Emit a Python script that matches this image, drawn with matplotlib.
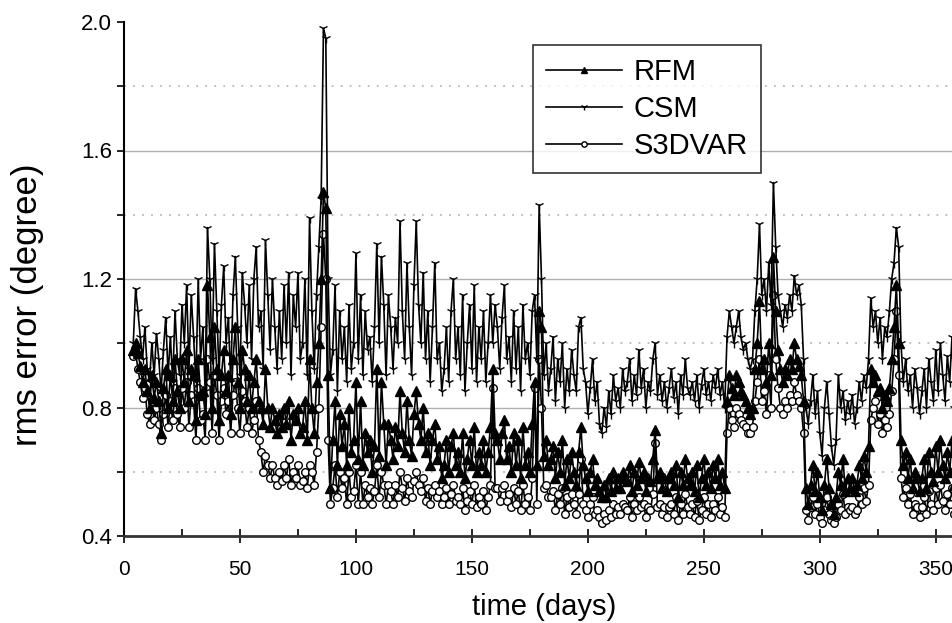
import numpy as np
import matplotlib
matplotlib.use("Agg")
from matplotlib import pyplot as plt
from matplotlib.ticker import MultipleLocator

plt.rcParams['font.family'] = ['Liberation Sans', 'DejaVu Sans']

# daily rms errors, days 4..358
days = np.arange(4, 359)

csm = [
    1.00, 1.17, 1.10, 1.02, 0.95, 1.05, 0.92, 0.88, 1.00, 0.90,
    1.03, 0.95, 0.85, 0.98, 1.08, 0.90, 1.02, 0.88, 1.10, 0.95,
    0.90, 1.12, 1.00, 1.18, 0.92, 1.15, 1.02, 0.88, 1.20, 0.95,
    1.05, 0.85, 1.36, 1.20, 0.95, 1.31, 1.10, 0.90, 1.12, 1.24,
    1.00, 1.08, 0.88, 1.15, 1.27, 1.05, 0.90, 1.22, 1.12, 1.00,
    1.18, 0.95, 1.20, 1.30, 1.05, 1.10, 0.92, 1.32, 1.15, 0.98,
    1.20, 1.05, 0.92, 1.10, 0.95, 1.18, 1.00, 1.22, 0.90, 1.15,
    1.05, 1.22, 0.95, 1.00, 1.20, 0.90, 1.39, 1.10, 0.92, 1.15,
    1.30, 1.45, 1.98, 1.95, 1.20, 0.90, 0.98, 1.18, 0.85, 1.10,
    0.95, 1.05, 0.88, 1.12, 0.92, 1.00, 1.28, 0.95, 1.15, 0.90,
    1.10, 0.98, 1.02, 0.88, 1.05, 1.31, 1.00, 1.27, 1.12, 0.90,
    1.15, 1.05, 0.92, 1.08, 1.00, 1.38, 1.10, 0.95, 1.25, 1.05,
    0.90, 1.18, 1.38, 1.12, 1.00, 1.22, 0.95, 1.10, 0.88, 1.05,
    1.25, 0.95, 1.00, 0.85, 0.92, 1.05, 0.88, 1.10, 1.20, 0.95,
    1.05, 0.90, 1.15, 0.85, 1.00, 1.12, 0.92, 1.18, 0.88, 1.05,
    0.95, 1.10, 0.88, 1.00, 1.15, 1.00, 1.12, 1.05, 0.92, 1.08,
    1.18, 0.95, 1.02, 0.88, 1.10, 0.92, 1.05, 0.85, 1.12, 0.95,
    1.00, 0.90, 1.10, 1.15, 0.95, 1.43, 1.20, 0.90, 1.00, 0.85,
    0.92, 1.02, 0.82, 0.95, 0.88, 1.00, 0.80, 0.92, 0.85, 0.98,
    0.90, 0.85, 1.05, 1.08, 0.92, 0.88, 0.78, 0.86, 0.95, 0.82,
    0.88, 0.75, 0.72, 0.80, 0.74, 0.85, 0.78, 0.90, 0.82, 0.86,
    0.80, 0.92, 0.85, 0.88, 0.95, 0.82, 0.90, 0.84, 0.98, 0.86,
    0.92, 0.80, 0.88, 0.85, 0.95, 1.00, 0.84, 0.90, 0.82, 0.88,
    0.80, 0.86, 0.92, 0.83, 0.88, 0.78, 0.90, 0.84, 0.95, 0.86,
    0.84, 0.88, 0.82, 0.90, 0.80, 0.87, 0.92, 0.84, 0.88, 0.82,
    0.90, 0.86, 0.92, 0.84, 0.88, 0.80, 1.02, 1.10, 1.05, 1.00,
    1.05, 1.10, 1.02, 0.98, 1.00, 0.95, 0.92, 0.95, 1.10, 1.20,
    1.37, 1.15, 1.20, 1.10, 1.25, 1.12, 1.50, 1.30, 1.15, 1.10,
    1.05, 1.12, 1.08, 1.15, 1.10, 1.21, 1.15, 1.18, 1.12, 0.95,
    0.80, 0.75, 0.82, 0.90, 0.78, 0.85, 0.72, 0.65, 0.80, 0.88,
    0.78, 0.68, 0.62, 0.70, 0.90, 0.80, 0.85, 0.76, 0.82, 0.78,
    0.84, 0.75, 0.80, 0.88, 0.82, 0.90, 0.86, 0.95, 1.14, 1.05,
    1.10, 1.00, 1.08, 0.95, 1.05, 1.02, 1.10, 1.20, 1.25, 1.36,
    1.30, 1.00, 0.88, 0.95, 0.85, 0.90, 0.80, 0.92, 0.86, 0.78,
    0.85, 0.92, 0.80, 0.95, 0.88, 0.82, 0.98, 0.85, 1.00, 0.90,
    0.82, 0.96, 0.88, 1.02, 0.80,
]

rfm = [
    0.98, 1.00, 0.97, 0.93, 0.88, 0.92, 0.85, 0.80, 0.90, 0.83,
    0.88, 0.82, 0.72, 0.86, 0.92, 0.80, 0.90, 0.82, 0.95, 0.85,
    0.80, 0.95, 0.88, 0.98, 0.82, 0.92, 0.90, 0.76, 0.95, 0.84,
    0.85, 0.78, 1.18, 1.02, 0.80, 1.05, 0.92, 0.76, 0.90, 0.98,
    0.85, 0.90, 0.78, 0.95, 1.05, 0.88, 0.80, 0.98, 0.92, 0.82,
    0.90, 0.80, 0.88, 0.95, 0.82, 0.80, 0.75, 0.92, 0.80, 0.74,
    0.80, 0.76, 0.72, 0.78, 0.74, 0.80, 0.75, 0.82, 0.70, 0.78,
    0.76, 0.80, 0.72, 0.74, 0.82, 0.70, 0.95, 0.80, 0.72, 0.88,
    1.00, 1.20, 1.47, 1.42, 0.90, 0.55, 0.70, 0.82, 0.62, 0.78,
    0.68, 0.75, 0.62, 0.80, 0.66, 0.70, 0.88, 0.64, 0.82, 0.62,
    0.72, 0.66, 0.70, 0.60, 0.68, 0.92, 0.65, 0.88, 0.75, 0.62,
    0.75, 0.70, 0.64, 0.74, 0.68, 0.85, 0.72, 0.66, 0.82, 0.70,
    0.65, 0.78, 0.85, 0.75, 0.70, 0.80, 0.66, 0.72, 0.62, 0.70,
    0.75, 0.64, 0.68, 0.58, 0.62, 0.70, 0.60, 0.68, 0.72, 0.62,
    0.66, 0.60, 0.72, 0.58, 0.64, 0.70, 0.62, 0.74, 0.60, 0.66,
    0.62, 0.70, 0.60, 0.66, 0.74, 0.92, 0.72, 0.70, 0.64, 0.72,
    0.76, 0.64, 0.68, 0.60, 0.72, 0.62, 0.70, 0.58, 0.74, 0.62,
    0.66, 0.60, 0.75, 0.88, 0.62, 1.10, 1.05, 0.65, 0.70, 0.62,
    0.64, 0.68, 0.58, 0.66, 0.60, 0.70, 0.56, 0.64, 0.58, 0.66,
    0.60, 0.56, 0.66, 0.74, 0.62, 0.58, 0.54, 0.60, 0.64, 0.56,
    0.58, 0.54, 0.52, 0.56, 0.52, 0.58, 0.54, 0.60, 0.55, 0.58,
    0.55, 0.60, 0.58, 0.57, 0.62, 0.54, 0.60, 0.56, 0.63, 0.58,
    0.60, 0.54, 0.58, 0.57, 0.64, 0.73, 0.58, 0.60, 0.55, 0.58,
    0.54, 0.58, 0.60, 0.56, 0.62, 0.52, 0.60, 0.56, 0.64, 0.58,
    0.56, 0.60, 0.54, 0.62, 0.52, 0.58, 0.64, 0.56, 0.60, 0.55,
    0.62, 0.58, 0.64, 0.56, 0.60, 0.55, 0.82, 0.90, 0.86, 0.84,
    0.90, 0.88, 0.85, 0.84, 0.82, 0.80, 0.78, 0.80, 0.92, 1.00,
    1.13, 0.92, 0.95, 0.88, 1.00, 0.90, 1.27, 1.10, 0.98, 0.92,
    0.88, 0.92, 0.90, 0.95, 0.92, 1.00, 0.95, 0.93, 0.90, 0.82,
    0.55, 0.50, 0.56, 0.62, 0.54, 0.60, 0.52, 0.48, 0.56, 0.64,
    0.55, 0.50, 0.47, 0.52, 0.60, 0.56, 0.64, 0.54, 0.58, 0.55,
    0.58, 0.54, 0.56, 0.62, 0.58, 0.65, 0.60, 0.68, 0.92, 0.88,
    0.90, 0.85, 0.86, 0.80, 0.84, 0.82, 0.86, 0.95, 1.05, 1.18,
    1.00, 0.70, 0.62, 0.66, 0.58, 0.64, 0.55, 0.60, 0.58, 0.54,
    0.58, 0.64, 0.55, 0.66, 0.60, 0.57, 0.68, 0.60, 0.70, 0.62,
    0.58, 0.66, 0.60, 0.70, 0.56,
]

s3dvar = [
    0.96, 0.97, 0.92, 0.88, 0.83, 0.86, 0.78, 0.75, 0.82, 0.76,
    0.80, 0.75, 0.70, 0.78, 0.84, 0.74, 0.82, 0.76, 0.86, 0.78,
    0.74, 0.86, 0.80, 0.88, 0.74, 0.84, 0.82, 0.70, 0.86, 0.76,
    0.78, 0.70, 0.95, 0.88, 0.72, 0.90, 0.84, 0.70, 0.82, 0.86,
    0.78, 0.82, 0.72, 0.84, 0.88, 0.80, 0.72, 0.85, 0.82, 0.74,
    0.80, 0.72, 0.76, 0.82, 0.70, 0.66, 0.60, 0.65, 0.62, 0.58,
    0.62, 0.58, 0.56, 0.60, 0.57, 0.62, 0.58, 0.64, 0.56, 0.60,
    0.58, 0.62, 0.56, 0.57, 0.60, 0.55, 0.62, 0.60, 0.56, 0.66,
    0.80, 1.05, 1.34, 1.20, 0.70, 0.50, 0.55, 0.62, 0.52, 0.60,
    0.55, 0.58, 0.50, 0.60, 0.52, 0.54, 0.62, 0.50, 0.60, 0.50,
    0.56, 0.52, 0.55, 0.50, 0.54, 0.62, 0.52, 0.60, 0.56, 0.50,
    0.56, 0.54, 0.50, 0.56, 0.52, 0.60, 0.55, 0.51, 0.58, 0.54,
    0.52, 0.57, 0.60, 0.56, 0.54, 0.58, 0.51, 0.55, 0.50, 0.54,
    0.56, 0.52, 0.54, 0.50, 0.52, 0.55, 0.50, 0.53, 0.56, 0.51,
    0.52, 0.50, 0.55, 0.48, 0.51, 0.54, 0.50, 0.56, 0.49, 0.52,
    0.50, 0.54, 0.48, 0.52, 0.56, 0.86, 0.55, 0.55, 0.51, 0.55,
    0.56, 0.51, 0.53, 0.49, 0.55, 0.50, 0.54, 0.48, 0.56, 0.50,
    0.52, 0.48, 0.58, 0.86, 0.50, 0.95, 0.80, 0.55, 0.56, 0.52,
    0.52, 0.54, 0.48, 0.53, 0.50, 0.55, 0.47, 0.52, 0.49, 0.53,
    0.50, 0.47, 0.53, 0.64, 0.50, 0.48, 0.46, 0.50, 0.52, 0.47,
    0.48, 0.46, 0.44, 0.47, 0.45, 0.48, 0.46, 0.50, 0.47, 0.49,
    0.47, 0.50, 0.49, 0.48, 0.52, 0.46, 0.50, 0.48, 0.52, 0.49,
    0.50, 0.46, 0.49, 0.48, 0.53, 0.69, 0.49, 0.50, 0.47, 0.49,
    0.46, 0.49, 0.50, 0.47, 0.52, 0.45, 0.50, 0.47, 0.53, 0.49,
    0.47, 0.50, 0.46, 0.51, 0.45, 0.48, 0.52, 0.47, 0.50, 0.46,
    0.50, 0.48, 0.52, 0.47, 0.49, 0.46, 0.72, 0.80, 0.76, 0.74,
    0.80, 0.78, 0.76, 0.75, 0.74, 0.72, 0.72, 0.74, 0.82, 0.88,
    0.95, 0.82, 0.85, 0.78, 0.90, 0.80, 1.15, 0.95, 0.86, 0.80,
    0.78, 0.82, 0.80, 0.84, 0.82, 0.88, 0.84, 0.82, 0.80, 0.72,
    0.48, 0.45, 0.49, 0.52, 0.47, 0.50, 0.46, 0.44, 0.48, 0.52,
    0.47, 0.45, 0.44, 0.46, 0.50, 0.48, 0.53, 0.47, 0.49, 0.48,
    0.49, 0.47, 0.48, 0.52, 0.50, 0.55, 0.51, 0.56, 0.76, 0.80,
    0.82, 0.75, 0.78, 0.72, 0.76, 0.74, 0.78, 0.85, 0.95, 1.10,
    0.90, 0.58, 0.52, 0.55, 0.50, 0.53, 0.47, 0.50, 0.49, 0.46,
    0.49, 0.52, 0.47, 0.54, 0.50, 0.48, 0.55, 0.50, 0.56, 0.51,
    0.48, 0.53, 0.50, 0.55, 0.47,
]

fig = plt.figure(figsize=(9.52, 6.23), dpi=100, facecolor='white')
ax = fig.add_axes([124 / 952, 1 - 536 / 623, 828 / 952, 514 / 623])

ax.plot(days, s3dvar, color='black', lw=1.2, marker='o', ms=5.5,
        mfc='white', mec='black', mew=1.0, label='S3DVAR', zorder=3)
ax.plot(days, rfm, color='black', lw=1.2, marker='^', ms=6.5,
        mfc='black', mec='black', label='RFM', zorder=4)
ax.plot(days, csm, color='black', lw=1.2, marker='1', ms=6.5,
        mew=1.0, label='CSM', zorder=5)

ax.set_xlim(0, 357)
ax.set_ylim(0.4, 2.0)
ax.xaxis.set_major_locator(MultipleLocator(50))
ax.xaxis.set_minor_locator(MultipleLocator(25))
ax.yaxis.set_major_locator(MultipleLocator(0.4))
ax.yaxis.set_minor_locator(MultipleLocator(0.2))
ax.yaxis.set_major_formatter(plt.FormatStrFormatter('%.1f'))

# solid grid lines at 0.8/1.2/1.6, dotted ones in between
for yv in [0.8, 1.2, 1.6]:
    ax.axhline(yv, color='#b0b0b0', lw=1.0, zorder=0)
for yv in [0.6, 1.0, 1.4, 1.8]:
    ax.axhline(yv, color='#b8b8b8', lw=1.3, ls=(0, (1, 4)), zorder=0)

for s in ['top', 'right']:
    ax.spines[s].set_visible(False)
ax.spines['left'].set_linewidth(1.5)
ax.spines['bottom'].set_linewidth(2.0)
ax.spines['bottom'].set_color('#333333')

ax.tick_params(axis='x', which='major', direction='inout', length=10, width=1.2, labelsize=15, pad=12)
ax.tick_params(axis='x', which='minor', direction='in', length=5, width=1.2)
ax.tick_params(axis='y', which='both', direction='out', length=5, width=1.2, labelsize=16)

ax.set_xlabel('time (days)', fontsize=21)
ax.xaxis.set_label_coords(0.508, -0.11)
ax.set_ylabel('rms error (degree)', fontsize=25)
ax.yaxis.set_label_coords(-0.097, 0.45)

h, l = ax.get_legend_handles_labels()
order = [1, 2, 0]
leg = ax.legend([h[i] for i in order], [l[i] for i in order],
                loc='upper left', bbox_to_anchor=(0.494, 0.955), borderaxespad=0,
                fontsize=21, frameon=True, fancybox=False, edgecolor='black',
                handlelength=2.6, handletextpad=0.4, labelspacing=0.3,
                borderpad=0.45, markerscale=0.7)
leg.get_frame().set_linewidth(1.2)

fig.savefig('out.png', dpi=100, facecolor='white')
